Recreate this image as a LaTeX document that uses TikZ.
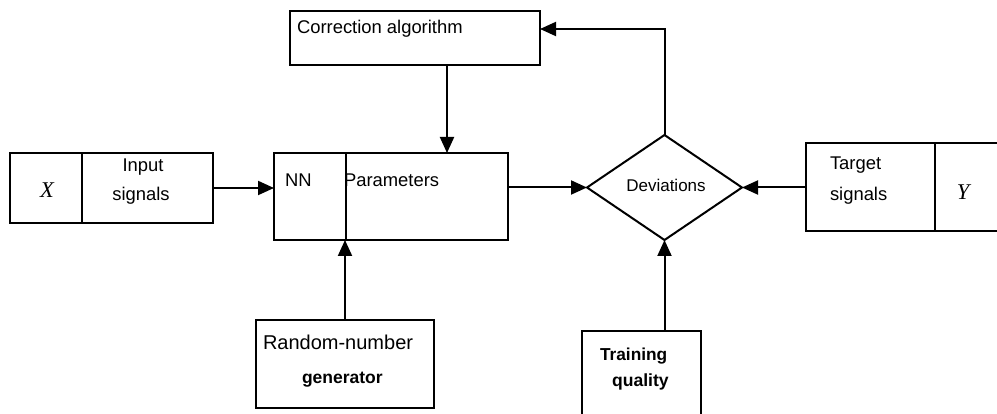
\documentclass[tikz,border=0pt]{standalone}
\usepackage{fontspec}
\setmainfont{Liberation Sans}
\newfontfamily\tnr{Liberation Serif}
\usetikzlibrary{arrows.meta,shapes.geometric}
\begin{document}
\begin{tikzpicture}[x=1pt,y=-1pt,line width=2pt,
  box/.style={draw,inner sep=0pt,outer sep=0pt,anchor=north west},
  lbl/.style={inner sep=0pt,outer sep=0pt,font=\fontsize{18.4}{22}\selectfont},
  bl/.style={lbl,anchor=base},
  bw/.style={lbl,anchor=base west},
  var/.style={inner sep=0pt,anchor=base,font=\tnr\itshape\fontsize{22.5}{26}\selectfont},
  arr/.style={-{Triangle[length=16pt,width=14pt]}}]
\useasboundingbox (0,0) rectangle (997,414);
% boxes
\node[box,minimum width=203pt,minimum height=70pt] (xbox) at (10,153) {};
\node[box,minimum width=234pt,minimum height=87pt] (nn) at (274,153) {};
\node[box,minimum width=250pt,minimum height=54pt] (corr) at (290,11) {};
\node[box,minimum width=200pt,minimum height=88pt] (tgt) at (806,143) {};
\node[box,minimum width=178pt,minimum height=88pt] (rnd) at (256,320) {};
\node[box,minimum width=119pt,minimum height=95pt] (trn) at (582,331) {};
\node[diamond,draw,inner sep=0pt,outer sep=0pt,minimum width=155pt,minimum height=105pt] (dev) at (664.5,187.5) {};
% dividers
\draw ([xshift=72pt]xbox.north west) -- ([xshift=72pt]xbox.south west);
\draw ([xshift=72pt]nn.north west) -- ([xshift=72pt]nn.south west);
\draw ([xshift=129pt]tgt.north west) -- ([xshift=129pt]tgt.south west);
% texts
\node[var] (xl) at (47,198) {X};
\node[var] (yl) at (963,200) {Y};
\node[bl] (in1) at (143,172) {Input};
\node[bl] (in2) at (141,201) {signals};
\node[bw] (nnl) at (285,187) {NN};
\node[bw] (par) at (344,187) {Parameters};
\node[bw] (corrl) at (297,34) {Correction algorithm};
\node[bl,font=\fontsize{17}{20}\selectfont] (devl) at (666,192) {Deviations};
\node[bw] (tg1) at (830,170) {Target};
\node[bw] (tg2) at (830,201) {signals};
\node[bw,font=\fontsize{20}{24}\selectfont] (rn1) at (263,350) {Random-number};
\node[bw,font=\bfseries\fontsize{17.5}{20}\selectfont] (rn2) at (302,383) {generator};
\node[bw,font=\bfseries\fontsize{17.3}{20}\selectfont] (tq1) at (600,360) {Training};
\node[bw,font=\bfseries\fontsize{17.6}{20}\selectfont] (tq2) at (612,387) {quality};
% connectors
\coordinate (ct) at (540,29);
\coordinate (cb) at (447,65);
\draw[arr] (xbox.east) -- (xbox.east -| nn.west);
\draw[arr] (nn.east |- dev.west) -- (dev.west);
\draw[arr] (tgt.west |- dev.east) -- (dev.east);
\draw[arr] (dev.north) |- (ct);
\draw[arr] (cb) -- (cb |- nn.north);
\draw[arr] (rnd.north) -- (rnd.north |- nn.south);
\draw[arr] (dev.south |- trn.north) -- (dev.south);
\end{tikzpicture}
\end{document}
